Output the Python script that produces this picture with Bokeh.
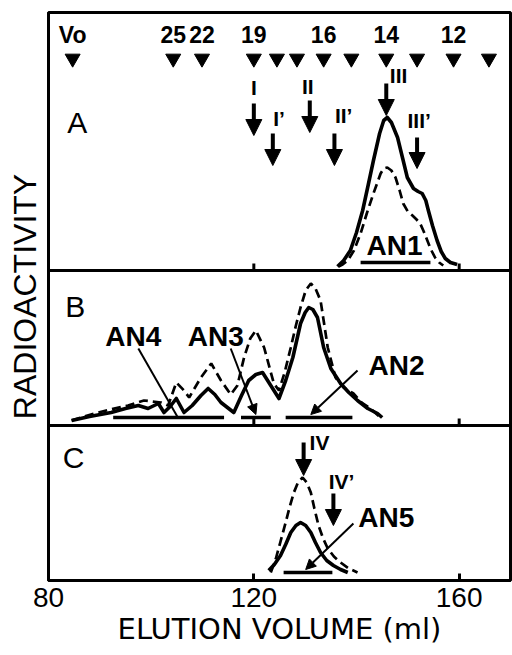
from bokeh.plotting import figure
from bokeh.models import Range1d, FixedTicker, Span, Arrow, NormalHead
from bokeh.core.properties import value
from bokeh.embed import file_html
from bokeh.resources import INLINE

FONT = "Liberation Sans"

# ---------------- data (elution volume in ml, radioactivity in arbitrary units) ----------------
# Panel A
a_solid_x = [136.3, 137.5, 138.8, 140.0, 141.2, 142.3, 143.3, 144.5, 145.3, 146.0, 146.8, 148.0, 149.0,
             149.9, 151.1, 152.0, 152.8, 153.5, 154.0, 154.8, 155.7, 156.5, 157.3, 158.3, 159.6]
a_solid_y = [2, 8, 18, 36, 58, 84, 108, 135, 148, 151, 146, 131, 110, 91, 80, 77, 75, 68, 58, 43, 28, 17, 10, 6, 4]
a_dash_x = [136.5, 137.3, 138.3, 139.5, 140.8, 142.0, 143.3, 144.7, 145.3, 146.0, 146.8, 147.6, 148.4,
            149.1, 150.0, 150.9, 151.7, 152.4, 153.1, 153.8, 154.5, 155.3, 156.1, 156.9]
a_dash_y = [2, 4, 8, 18, 35, 55, 75, 95, 100, 101, 98, 91, 78, 65, 57, 53, 49, 45, 37, 28, 19, 11, 6, 3]

# Panel B
b_solid_x = [84.5, 88.0, 92.2, 95.0, 97.5, 99.4, 101.4, 102.5, 103.7, 104.9, 106.4, 108.0, 109.7, 111.1,
             112.4, 113.6, 116.1, 117.6, 119.0, 120.4, 121.7, 123.3, 124.9, 126.2, 127.6, 129.1, 130.0,
             130.7, 131.5, 132.4, 133.6, 135.0, 136.9, 138.5, 140.2, 142.2, 144.1, 145.0]
b_solid_y = [0, 4, 8, 12, 15, 12, 17, 8, 14, 22, 8, 15, 25, 32, 26, 18, 8, 25, 40, 46, 48, 35, 22, 40, 63,
             97, 108, 113, 111, 103, 73, 52, 37, 28, 20, 12, 7, 3]
b_dash_x = [84.5, 88.9, 92.0, 95.5, 98.6, 101.9, 103.3, 104.9, 106.4, 107.4, 109.7, 111.7, 113.6, 115.5,
            116.8, 118.1, 119.3, 120.4, 122.0, 123.9, 124.9, 126.0, 127.2, 128.2, 129.1, 130.1, 131.1,
            132.0, 133.0, 134.4, 135.9, 137.5, 139.4, 141.0, 142.7, 144.7]
b_dash_y = [0, 7, 11, 15, 20, 18, 15, 38, 30, 23, 43, 57, 40, 26, 35, 63, 82, 90, 73, 37, 30, 48, 73, 95,
            113, 130, 137, 132, 120, 73, 43, 33, 27, 18, 12, 3]

# Panel C
c_solid_x = [122.9, 124.0, 125.2, 126.2, 127.2, 128.2, 129.1, 130.1, 131.1, 132.0, 133.0, 134.2, 135.5, 136.9, 138.3]
c_solid_y = [4, 10, 19, 30, 42, 49, 52, 49, 42, 32, 22, 14, 9, 5, 2]
c_dash_x = [123.3, 124.3, 125.2, 126.2, 127.0, 127.8, 128.6, 129.5, 130.3, 131.1, 131.8, 132.6, 133.5,
            134.4, 135.6, 136.9, 138.5, 140.2]
c_dash_y = [2, 16, 33, 52, 68, 82, 92, 97, 92, 82, 66, 49, 36, 26, 18, 12, 6, 2]

# Molecular-size markers (top of panel A)
marker_x = [84.7, 104.3, 109.9, 120.0, 124.5, 128.4, 133.6, 139.0, 145.8, 151.8, 158.9, 165.8]
marker_labels = ["Vo", "25", "22", "19", "", "", "16", "", "14", "", "12", ""]

# Fraction bars
bar_names = ["AN1", "AN4", "AN3", "AN2", "AN5"]
bar_panel = ["A", "B", "B", "B", "C"]
bar_start = [140.8, 92.6, 117.5, 126.2, 125.8]
bar_end = [154.4, 114.2, 123.3, 139.2, 135.3]

# Marker arrows (label, x position, panel)
arrow_names = ["I", "I\u2019", "II", "II\u2019", "III", "III\u2019", "IV", "IV\u2019"]
arrow_x = [120.0, 123.7, 130.9, 135.7, 145.8, 151.8, 129.7, 135.5]
arrow_panel = ["A", "A", "A", "A", "A", "A", "C", "C"]

x_ticks = [80, 120, 160]

# ---------------- figure ----------------
p = figure(width=512, height=655, output_backend="svg", toolbar_location=None,
           x_range=Range1d(80, 170), y_range=Range1d(0, 568),
           min_border_left=48, min_border_right=2, min_border_top=12, min_border_bottom=75)
p.extra_y_ranges = {"A": Range1d(-312, 256), "B": Range1d(-160, 408), "C": Range1d(-6, 562)}
p.grid.visible = False
p.outline_line_color = "black"
p.outline_line_width = 3
p.background_fill_color = "white"
p.border_fill_color = "white"

# axes
p.xaxis.ticker = FixedTicker(ticks=x_ticks)
p.xaxis.minor_tick_line_color = None
p.xaxis.major_tick_in = 7
p.xaxis.major_tick_out = 0
p.xaxis.major_tick_line_width = 3
p.xaxis.axis_line_width = 3
p.xaxis.major_label_text_font = FONT
p.xaxis.major_label_text_font_size = "28px"
p.xaxis.major_label_text_color = "black"
p.xaxis.major_label_standoff = 7
p.xaxis.axis_label = "ELUTION VOLUME (ml)"
p.xaxis.axis_label_text_font = "DejaVu Sans"
p.xaxis.axis_label_text_font_size = "29px"
p.xaxis.axis_label_text_font_style = "normal"
p.xaxis.axis_label_text_color = "black"
p.xaxis.axis_label_standoff = 2

p.yaxis.ticker = FixedTicker(ticks=[])
p.yaxis.minor_tick_line_color = None
p.yaxis.major_tick_line_color = None
p.yaxis.axis_line_width = 3
p.yaxis.axis_label = "RADIOACTIVITY"
p.yaxis.axis_label_text_font = FONT
p.yaxis.axis_label_text_font_size = "32px"
p.yaxis.axis_label_text_font_style = "normal"
p.yaxis.axis_label_text_color = "black"
p.yaxis.axis_label_standoff = 6

# panel separators
for loc in [310, 155]:
    p.add_layout(Span(location=loc, dimension="width", line_color="black", line_width=3))
for loc in [310, 155]:
    p.segment(x0=x_ticks[1:], y0=[loc] * 2, x1=x_ticks[1:], y1=[loc + 7] * 2,
              line_color="black", line_width=3)

# curves
curves = [("A", a_solid_x, a_solid_y, a_dash_x, a_dash_y),
          ("B", b_solid_x, b_solid_y, b_dash_x, b_dash_y),
          ("C", c_solid_x, c_solid_y, c_dash_x, c_dash_y)]
for name, sx, sy, dx, dy in curves:
    p.line(dx, dy, y_range_name=name, line_color="black", line_width=2.7, line_dash="9 5")
    p.line(sx, sy, y_range_name=name, line_color="black", line_width=3.6, line_join="round")

# fraction bars
bar_y = {"A": 6, "B": 3, "C": 2}
for nm, pn, s, e in zip(bar_names, bar_panel, bar_start, bar_end):
    p.segment(x0=[s], y0=[bar_y[pn]], x1=[e], y1=[bar_y[pn]], y_range_name=pn,
              line_color="black", line_width=3.5)

# size markers at top of panel A
p.scatter(marker_x, [210] * len(marker_x), y_range_name="A", marker="inverted_triangle",
          size=15, fill_color="black", line_color="black")
p.text(marker_x, [234] * len(marker_x), text=marker_labels, y_range_name="A",
       text_font=value(FONT), text_font_size="23px", text_font_style="bold", text_align="center",
       text_baseline="middle", text_color="black")

# vertical arrows with roman numerals
arrow_top = {"I": 165, "I\u2019": 135, "II": 168, "II\u2019": 135, "III": 185, "III\u2019": 131,
             "IV": 132, "IV\u2019": 81}
arrow_tip = {"I": 133, "I\u2019": 103, "II": 136, "II\u2019": 103, "III": 153, "III\u2019": 100,
             "IV": 99, "IV\u2019": 49}
label_dx = {"I": 0.0, "I\u2019": 1.2, "II": -0.4, "II\u2019": 1.8, "III": 2.4, "III\u2019": 0.4,
            "IV": 3.1, "IV\u2019": 1.6}
label_y = {"I": 181, "I\u2019": 150, "II": 182, "II\u2019": 153, "III": 193, "III\u2019": 148,
           "IV": 132, "IV\u2019": 93}
for nm, x, pn in zip(arrow_names, arrow_x, arrow_panel):
    p.add_layout(Arrow(x_start=x, y_start=arrow_top[nm], x_end=x, y_end=arrow_tip[nm],
                       y_range_name=pn, line_width=4, line_color="black",
                       end=NormalHead(size=16, fill_color="black", line_color="black", line_width=1)))
    p.text([x + label_dx[nm]], [label_y[nm]], text=[nm], y_range_name=pn,
           text_font=value(FONT), text_font_size="21px", text_font_style="bold",
           text_align="center", text_baseline="middle", text_color="black")

# panel letters
for letter, px, py in [("A", 85.6, 146), ("B", 85.2, 114), ("C", 84.9, 117)]:
    p.text([px], [py], text=[letter], y_range_name=letter,
           text_font=value(FONT), text_font_size="30px", text_align="center",
           text_baseline="middle", text_color="black")

# fraction labels
frac_pos = {"AN1": (147.4, 23), "AN4": (96.5, 84), "AN3": (112.6, 84), "AN2": (147.8, 55), "AN5": (145.8, 57)}
for nm, pn in zip(bar_names, bar_panel):
    fx, fy = frac_pos[nm]
    p.text([fx], [fy], text=[nm], y_range_name=pn,
           text_font=value(FONT), text_font_size="28px", text_font_style="bold", text_align="center",
           text_baseline="middle", text_color="black")

# pointer lines from fraction labels to bars
p.segment(x0=[97.5], y0=[72], x1=[105.2], y1=[3], y_range_name="B", line_color="black", line_width=2)
pointers = [("B", 115.5, 72, 120.4, 6), ("B", 140.2, 50, 131.1, 6), ("C", 139.4, 51, 130.1, 5)]
for pn, x0, y0, x1, y1 in pointers:
    p.add_layout(Arrow(x_start=x0, y_start=y0, x_end=x1, y_end=y1, y_range_name=pn,
                       line_width=2, line_color="black",
                       end=NormalHead(size=10, fill_color="black", line_color="black", line_width=1)))

open("out.html", "w").write(file_html(p, INLINE))
